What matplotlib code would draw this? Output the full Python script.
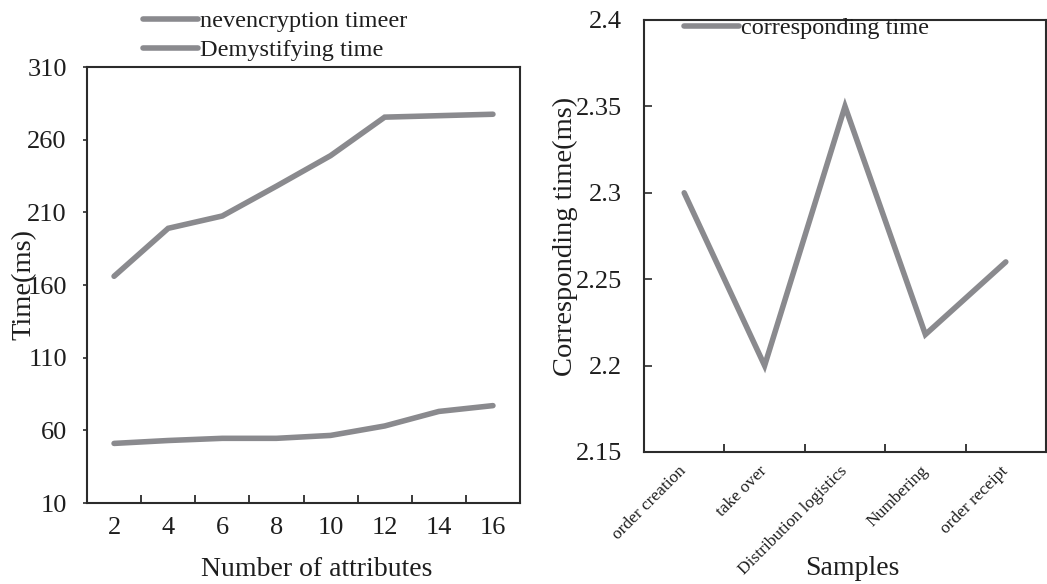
import matplotlib
matplotlib.use("Agg")
import matplotlib.pyplot as plt
import numpy as np

plt.rcParams['font.family'] = ['Liberation Serif', 'DejaVu Serif']

attributes = ["2", "4", "6", "8", "10", "12", "14", "16"]
encryption_time = [166, 199, 207.5, 228, 249, 275.5, 276.5, 277.5]
decryption_time = [51, 53, 54.5, 54.5, 56.5, 63, 73, 77]
series_labels = ["nevencryption timeer", "Demystifying time"]

samples = ["order creation", "take over", "Distribution logistics", "Numbering", "order receipt"]
corresponding_time = [2.30, 2.20, 2.35, 2.218, 2.26]
right_label = "corresponding time"

W, H = 1047, 584
fig = plt.figure(figsize=(W / 100, H / 100), dpi=100)

LINE_C = '#8a8a8e'
SPINE_C = '#2b2b2b'
TEXT_C = '#1e1e1e'
LW = 4.0

def fx(px):
    return px / W

def fy(py):
    return 1 - py / H

# ---------------- Left chart ----------------
ax1 = fig.add_axes([fx(87), fy(503), fx(520) - fx(87), fy(67) - fy(503)])
xi = np.arange(len(attributes))
l1, = ax1.plot(xi, encryption_time, color=LINE_C, lw=LW, solid_capstyle='round', solid_joinstyle='miter')
l2, = ax1.plot(xi, decryption_time, color=LINE_C, lw=LW, solid_capstyle='round', solid_joinstyle='miter')
ax1.set_xlim(-0.5, len(attributes) - 0.5)
ax1.set_ylim(10, 310)
ax1.set_yticks(np.arange(10, 311, 50))
ax1.set_xticks(xi)
ax1.set_xticklabels(attributes)
ax1.set_xticks(xi[:-1] + 0.5, minor=True)
ax1.tick_params(axis='x', which='major', length=0, pad=10, labelsize=19, labelcolor=TEXT_C)
ax1.tick_params(axis='x', which='minor', length=6, direction='in', width=1.3, color=SPINE_C)
ax1.tick_params(axis='y', length=3, direction='out', width=1.2, color=SPINE_C, pad=11.5, labelsize=19, labelcolor=TEXT_C)
for s in ax1.spines.values():
    s.set_color(SPINE_C)
    s.set_linewidth(1.5)
ax1.set_ylabel("Time(ms)", fontsize=20.5, color=TEXT_C)
ax1.yaxis.set_label_coords((37 - 87) / 433, 0.5)
ax1.set_xlabel("Number of attributes", fontsize=20, color=TEXT_C)
ax1.xaxis.set_label_coords((317 - 87) / 433, (503 - 557) / 436)

fig.legend([l1, l2], series_labels, loc='upper left', bbox_to_anchor=(fx(143), fy(10)),
           frameon=False, fontsize=17.5, handlelength=2.25, handletextpad=0.1,
           labelspacing=0.3, borderpad=0, borderaxespad=0, labelcolor=TEXT_C)

# ---------------- Right chart ----------------
ax2 = fig.add_axes([fx(644), fy(452), fx(1046) - fx(644), fy(20) - fy(452)])
si = np.arange(len(samples))
l3, = ax2.plot(si, corresponding_time, color=LINE_C, lw=LW, solid_capstyle='round', solid_joinstyle='miter')
ax2.set_xlim(-0.5, len(samples) - 0.5)
ax2.set_ylim(2.15, 2.4)
ax2.set_yticks([2.15, 2.2, 2.25, 2.3, 2.35, 2.4])
ax2.set_yticklabels(["2.15", "2.2", "2.25", "2.3", "2.35", "2.4"])
ax2.set_xticks(si)
ax2.set_xticklabels(samples, rotation=45, ha='right', va='center', rotation_mode='anchor', fontsize=12.5, color=TEXT_C)
ax2.set_xticks(si[:-1] + 0.5, minor=True)
ax2.tick_params(axis='x', which='major', length=0, pad=12)
ax2.tick_params(axis='x', which='minor', length=6, direction='in', width=1.3, color=SPINE_C)
ax2.tick_params(axis='y', length=6, direction='in', width=1.2, color=SPINE_C, pad=16, labelsize=19, labelcolor=TEXT_C)
for s in ax2.spines.values():
    s.set_color(SPINE_C)
    s.set_linewidth(1.5)
ax2.set_ylabel("Corresponding time(ms)", fontsize=20.5, color=TEXT_C)
ax2.yaxis.set_label_coords((578 - 644) / 402, 0.5)
ax2.set_xlabel("Samples", fontsize=20, color=TEXT_C)
ax2.xaxis.set_label_coords((852 - 644) / 402, (452 - 556) / 432)

ax2.legend([l3], [right_label], loc='upper left', bbox_to_anchor=(fx(684), fy(17)),
           bbox_transform=fig.transFigure, frameon=False, fontsize=17.5,
           handlelength=2.25, handletextpad=0.1, borderpad=0, borderaxespad=0, labelcolor=TEXT_C)

fig.savefig("out.png", dpi=100)
